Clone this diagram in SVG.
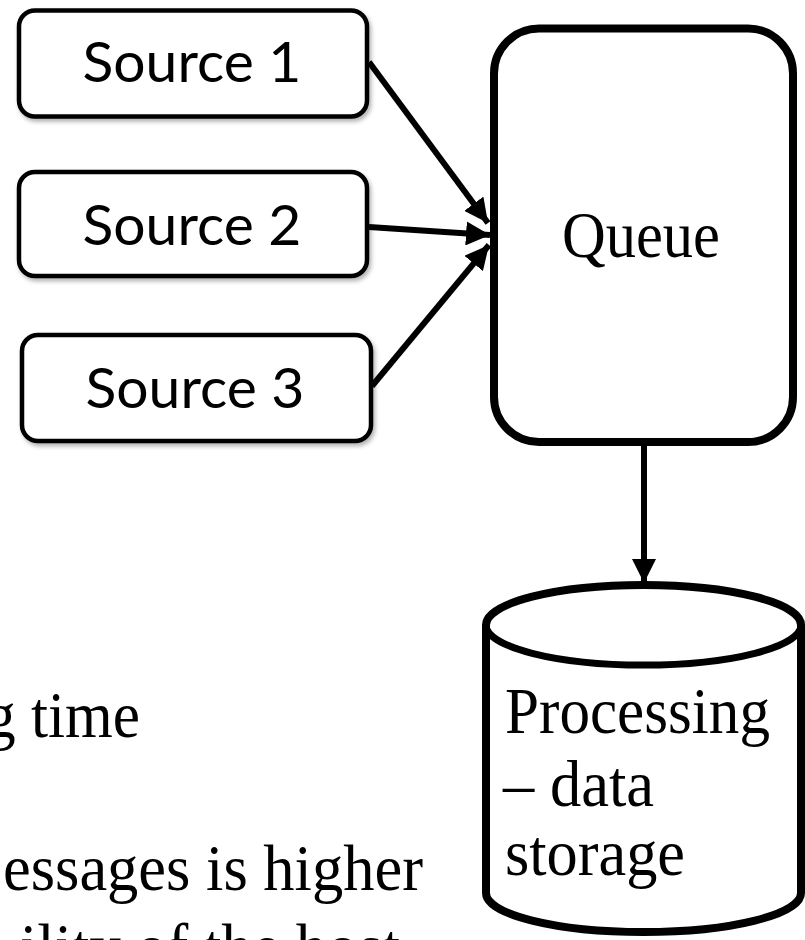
<svg xmlns="http://www.w3.org/2000/svg" width="805" height="940" viewBox="0 0 805 940">
  <style>
    .box { fill: #ffffff; stroke: #000000; stroke-width: 4.5; }
    .big { fill: #ffffff; stroke: #000000; stroke-width: 8; }
    .src { font-family: Lato, "Liberation Sans", sans-serif; font-size: 57px; fill: #000000; text-anchor: middle; }
    .serif { font-family: "Liberation Serif", "Times New Roman", serif; font-size: 65px; fill: #000000; }
    .wire { stroke: #000000; stroke-width: 6; fill: none; }
  </style>
  <defs>
    <filter id="soft" x="-10%" y="-10%" width="130%" height="140%">
      <feDropShadow dx="2" dy="3" stdDeviation="2" flood-color="#000000" flood-opacity="0.3"/>
    </filter>
    <marker id="head" viewBox="0 0 10 10" refX="10" refY="5" markerWidth="4" markerHeight="4" orient="auto" markerUnits="strokeWidth">
      <path d="M0,0 L10,5 L0,10 z" fill="#000000"/>
    </marker>
  </defs>

  <rect width="805" height="940" fill="#ffffff"/>

  <!-- background slide text, partly hidden -->
  <g id="slide-text" class="serif">
    <text x="140" y="737" text-anchor="end" textLength="155" lengthAdjust="spacingAndGlyphs">g time</text>
    <text x="423" y="890" text-anchor="end" textLength="420" lengthAdjust="spacingAndGlyphs">essages is higher</text>
    <text x="400" y="969" text-anchor="end" textLength="380" lengthAdjust="spacingAndGlyphs">ility of the host</text>
  </g>

  <!-- connectors -->
  <g id="connectors">
    <line class="wire" x1="369" y1="62" x2="488" y2="223" marker-end="url(#head)"/>
    <line class="wire" x1="369" y1="227" x2="490" y2="235" marker-end="url(#head)"/>
    <line class="wire" x1="372" y1="386" x2="489" y2="245" marker-end="url(#head)"/>
    <line class="wire" x1="644" y1="446" x2="644" y2="583" marker-end="url(#head)"/>
  </g>

  <g id="source1" filter="url(#soft)">
    <rect class="box" x="19" y="10.5" width="348" height="106" rx="16"/>
    <text class="src" x="192" y="82">Source 1</text>
  </g>
  <g id="source2" filter="url(#soft)">
    <rect class="box" x="19" y="172" width="348" height="104" rx="16"/>
    <text class="src" x="192" y="245">Source 2</text>
  </g>
  <g id="source3" filter="url(#soft)">
    <rect class="box" x="22" y="335" width="349" height="106" rx="16"/>
    <text class="src" x="195" y="408">Source 3</text>
  </g>

  <g id="queue">
    <rect class="big" x="494" y="28.5" width="299" height="413.5" rx="45"/>
    <text class="serif" x="562" y="257" textLength="158" lengthAdjust="spacingAndGlyphs">Queue</text>
  </g>

  <g id="storage">
    <path class="big" stroke-width="7" d="M486,625 A157.5,40 0 0 1 801,625 L801,893 A157.5,39 0 0 1 486,893 Z"/>
    <path fill="none" stroke="#000000" stroke-width="7" d="M486,625 A157.5,40 0 0 0 801,625"/>
    <text class="serif" x="505" y="733" textLength="265" lengthAdjust="spacingAndGlyphs">Processing</text>
    <text class="serif" x="503" y="806" textLength="151" lengthAdjust="spacingAndGlyphs">– data</text>
    <text class="serif" x="505" y="875" textLength="180" lengthAdjust="spacingAndGlyphs">storage</text>
  </g>
</svg>
